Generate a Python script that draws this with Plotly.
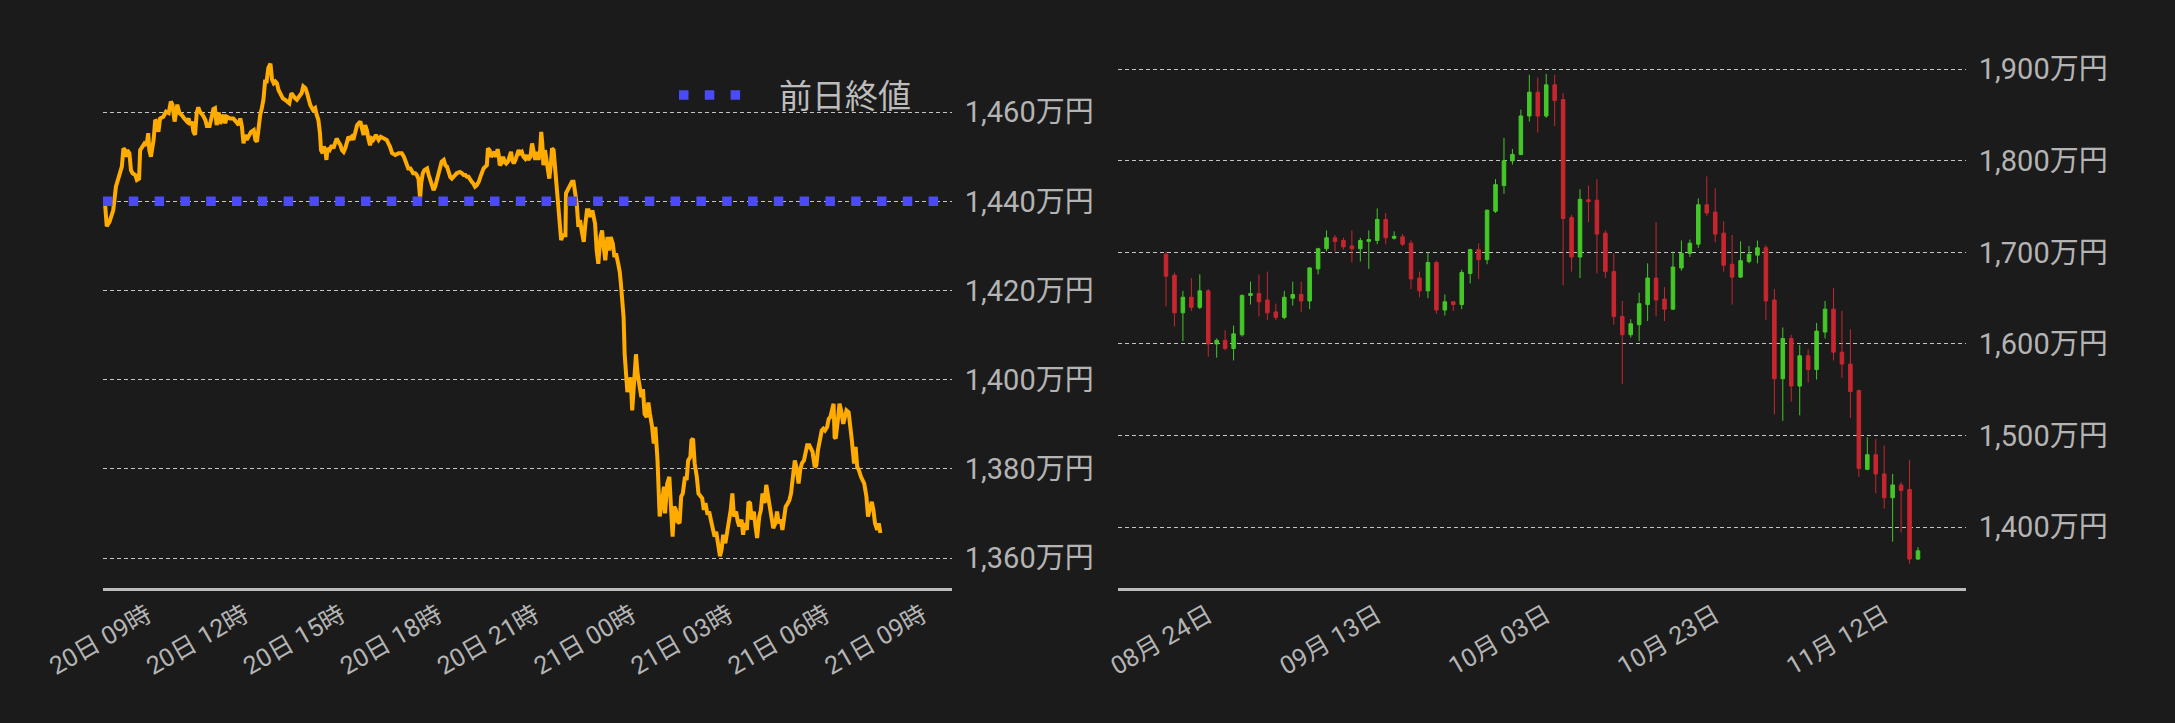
import pandas as pd
import plotly.graph_objects as go

# ---------------- data: intraday (万円), minutes from 20日 09:00 ----------------
intraday_minutes = [
    -78, -75, -70, -66, -63, -58, -51, -47, -44, -41,
    -38, -37, -33, -30, -27, -22, -19, -15, -13, -8,
    -5, -1, 2, 4, 7, 12, 15, 18, 21, 24,
    30, 35, 40, 44, 47, 51, 54, 56, 60, 64,
    69, 74, 77, 80, 83, 86, 89, 92, 95, 98,
    103, 108, 111, 116, 120, 123, 126, 129, 133, 136,
    139, 142, 145, 148, 154, 160, 165, 170, 173, 176,
    179, 182, 185, 190, 193, 198, 201, 204, 207, 210,
    213, 216, 219, 222, 225, 229, 232, 235, 238, 241,
    244, 247, 252, 256, 259, 264, 268, 272, 275, 278,
    283, 287, 290, 294, 297, 300, 303, 308, 312, 315,
    318, 321, 323, 326, 328, 331, 333, 335, 339, 343,
    346, 349, 352, 355, 359, 362, 365, 368, 371, 374,
    377, 380, 383, 386, 390, 393, 396, 399, 402, 405,
    408, 411, 414, 417, 420, 425, 430, 434, 439, 445,
    448, 451, 455, 461, 467, 473, 477, 481, 485, 489,
    494, 498, 501, 504, 506, 507, 509, 512, 515, 520,
    523, 526, 529, 532, 535, 538, 541, 544, 547, 551,
    554, 557, 560, 563, 566, 569, 572, 575, 578, 581,
    585, 588, 591, 594, 597, 600, 603, 606, 609, 612,
    616, 619, 622, 625, 628, 631, 633, 636, 639, 642,
    645, 648, 651, 653, 655, 658, 661, 664, 667, 670,
    673, 676, 678, 681, 684, 687, 690, 693, 696, 699,
    702, 705, 708, 712, 715, 718, 721, 724, 727, 730,
    732, 734, 736, 739, 742, 744, 747, 750, 752, 755,
    758, 761, 764, 767, 769, 772, 777, 778, 781, 783,
    786, 789, 792, 795, 798, 801, 804, 807, 811, 814,
    817, 820, 823, 827, 832, 835, 838, 842, 845, 848,
    851, 855, 858, 861, 865, 868, 871, 875, 878, 880,
    883, 885, 887, 890, 892, 895, 898, 901, 905, 908,
    911, 915, 918, 921, 924, 928, 931, 934, 938, 941,
    944, 948, 950, 952, 956, 960, 962, 966, 970, 972,
    976, 979, 982, 985, 989, 992, 995, 999, 1002, 1005,
    1009, 1011, 1014, 1017, 1021, 1024, 1027, 1031, 1034, 1037,
    1041, 1044, 1047, 1050, 1054, 1057, 1060, 1064, 1067, 1070,
    1074, 1077, 1080, 1084, 1087, 1090, 1094, 1097, 1100, 1104,
    1107, 1110, 1114, 1117, 1120, 1123, 1127, 1130, 1133, 1137,
    1140, 1143, 1147, 1150, 1153, 1157, 1160, 1163, 1167, 1170,
    1173, 1177, 1180, 1183, 1186, 1190, 1193, 1196, 1200, 1203,
    1206, 1210, 1213, 1216, 1220, 1223, 1226, 1230, 1233, 1236,
    1240, 1243, 1246, 1250, 1253, 1256, 1259, 1263, 1266, 1269,
    1273, 1275, 1277, 1279, 1283, 1286, 1289, 1293, 1296, 1299,
    1303, 1306, 1309, 1313, 1316, 1319, 1322, 1326, 1329, 1332,
    1336, 1339, 1342, 1346, 1349, 1352, 1356, 1359, 1362,
]
intraday_prices = [
    1439.1, 1434.4, 1435.4, 1436.9, 1438.0, 1443.3, 1445.9, 1447.8, 1451.9, 1451.5,
    1450.0, 1451.5, 1450.8, 1447.0, 1446.3, 1445.9, 1444.8, 1445.1, 1451.5, 1452.3,
    1453.0, 1452.6, 1455.3, 1451.5, 1450.0, 1453.8, 1458.3, 1457.9, 1455.6, 1458.6,
    1459.0, 1460.1, 1459.8, 1462.4, 1461.7, 1457.9, 1460.5, 1461.7, 1459.8, 1459.4,
    1458.6, 1457.9, 1458.6, 1457.1, 1457.9, 1455.6, 1454.9, 1459.8, 1461.1, 1460.1,
    1459.4, 1458.3, 1456.9, 1456.9, 1459.0, 1460.7, 1460.9, 1457.1, 1459.9, 1457.4,
    1458.6, 1459.4, 1457.5, 1459.0, 1458.6, 1458.6, 1457.9, 1457.1, 1458.6, 1456.8,
    1453.0, 1454.9, 1453.8, 1455.3, 1455.6, 1456.0, 1453.8, 1453.4, 1456.8, 1459.4,
    1460.9, 1462.8, 1466.9, 1466.9, 1469.9, 1470.9, 1467.3, 1466.5, 1466.9, 1466.5,
    1465.0, 1464.3, 1463.1, 1462.8, 1462.4, 1462.0, 1464.3, 1463.5, 1463.1, 1462.8,
    1463.5, 1464.3, 1465.8, 1465.4, 1464.3, 1462.8, 1461.6, 1460.5, 1460.9, 1459.4,
    1458.3, 1455.3, 1451.5, 1450.8, 1452.3, 1451.5, 1449.3, 1451.9, 1451.5, 1452.6,
    1451.9, 1453.0, 1454.1, 1453.4, 1452.6, 1451.5, 1451.1, 1451.9, 1453.4, 1454.5,
    1454.1, 1454.5, 1453.8, 1455.6, 1457.1, 1457.5, 1457.9, 1456.4, 1454.9, 1457.1,
    1456.0, 1454.1, 1452.6, 1454.1, 1453.8, 1454.9, 1453.8, 1454.5, 1454.1, 1453.8,
    1453.0, 1452.3, 1450.8, 1450.4, 1450.8, 1450.8, 1450.0, 1448.5, 1447.4, 1447.4,
    1446.3, 1446.3, 1445.9, 1445.1, 1441.8, 1440.6, 1444.0, 1446.3, 1447.0, 1447.4,
    1445.9, 1444.8, 1443.3, 1442.5, 1443.3, 1444.8, 1445.9, 1447.0, 1448.9, 1449.3,
    1448.1, 1447.8, 1446.3, 1445.5, 1445.1, 1445.7, 1445.9, 1446.3, 1446.4, 1446.6,
    1446.3, 1445.9, 1445.9, 1445.5, 1445.5, 1444.8, 1444.4, 1444.0, 1443.3, 1443.6,
    1444.4, 1445.5, 1446.6, 1447.4, 1447.8, 1448.1, 1451.9, 1451.5, 1450.0, 1450.8,
    1451.1, 1450.0, 1451.7, 1450.4, 1448.1, 1448.5, 1450.0, 1448.9, 1448.5, 1448.9,
    1450.0, 1451.1, 1449.3, 1448.5, 1449.3, 1450.8, 1451.5, 1450.8, 1451.1, 1450.0,
    1449.6, 1450.4, 1449.3, 1450.0, 1453.0, 1451.1, 1449.3, 1451.1, 1449.3, 1451.5,
    1455.6, 1453.0, 1448.1, 1451.5, 1449.3, 1447.0, 1445.1, 1448.5, 1451.9, 1451.5,
    1447.0, 1442.5, 1438.0, 1433.5, 1431.3, 1432.4, 1432.4, 1441.8, 1442.5, 1443.3,
    1444.0, 1444.4, 1444.4, 1442.5, 1439.5, 1434.3, 1435.8, 1433.5, 1430.9, 1435.0,
    1438.0, 1438.0, 1436.5, 1438.0, 1435.0, 1429.0, 1426.0, 1432.0, 1433.5, 1429.8,
    1426.8, 1432.0, 1429.0, 1432.0, 1430.5, 1427.5, 1428.3, 1426.0, 1424.1, 1421.5,
    1417.8, 1414.0, 1405.7, 1401.3, 1397.2, 1399.0, 1400.5, 1393.1, 1401.3, 1405.7,
    1401.3, 1398.3, 1396.1, 1397.9, 1392.3, 1391.6, 1394.9, 1392.3, 1389.4, 1385.7,
    1389.4, 1381.9, 1377.5, 1369.3, 1372.3, 1376.0, 1370.0, 1376.7, 1378.2, 1372.3,
    1364.8, 1371.5, 1370.8, 1368.2, 1367.8, 1373.8, 1374.5, 1378.2, 1377.5, 1381.9,
    1382.7, 1386.4, 1386.8, 1381.2, 1378.2, 1374.5, 1374.1, 1373.4, 1370.8, 1372.3,
    1369.7, 1370.4, 1368.6, 1367.1, 1364.8, 1365.9, 1363.3, 1360.4, 1361.9, 1365.2,
    1363.3, 1366.3, 1367.8, 1370.8, 1374.5, 1369.3, 1370.4, 1368.2, 1367.1, 1368.6,
    1365.2, 1367.8, 1366.3, 1372.6, 1372.3, 1368.6, 1370.4, 1367.1, 1364.5, 1369.3,
    1370.8, 1374.5, 1372.3, 1376.4, 1373.8, 1370.8, 1368.6, 1366.7, 1367.8, 1370.4,
    1367.8, 1368.6, 1366.3, 1370.0, 1371.5, 1372.3, 1373.0, 1374.5, 1378.2, 1381.9,
    1380.4, 1376.7, 1379.7, 1381.2, 1381.9, 1384.2, 1385.3, 1385.3, 1384.2, 1383.8,
    1380.4, 1380.8, 1384.2, 1387.1, 1388.6, 1389.0, 1388.6, 1389.4, 1391.2, 1391.6,
    1394.2, 1394.6, 1387.1, 1386.8, 1390.9, 1394.6, 1393.1, 1390.1, 1391.6, 1393.1,
    1392.7, 1390.1, 1386.4, 1381.2, 1384.9, 1380.4, 1379.7, 1378.2, 1377.5, 1376.7,
    1373.8, 1369.3, 1370.8, 1372.6, 1370.8, 1367.8, 1366.3, 1367.8, 1365.6,
]
prev_close = 1440.0
prev_close_label = "前日終値"

intraday_base = pd.Timestamp("2025-11-20 09:00")
intraday_window_minutes = [-82, 1495]
intraday_tick0 = "2025-11-20 09:00"
left_y_ticks = [1360, 1380, 1400, 1420, 1440, 1460]
left_y_range = [1353.27, 1476.2]

# ---------------- data: daily candles (万円) ----------------
candle_start = "2025-08-19"
candle_open = [
    1698, 1675, 1634, 1651, 1640, 1658, 1600, 1604, 1595, 1610,
    1653, 1655, 1648, 1635, 1629, 1650, 1654, 1647, 1682, 1704,
    1716, 1713, 1707, 1704, 1712, 1713, 1736, 1715.5, 1717, 1710,
    1672, 1658, 1689, 1637, 1646, 1643, 1677, 1703, 1692, 1745,
    1773, 1800, 1807, 1849, 1875, 1849, 1883, 1867, 1738, 1695,
    1757.5, 1757, 1721, 1679, 1630, 1610, 1621, 1643, 1672, 1649,
    1638, 1683, 1699, 1709, 1752, 1744, 1721, 1687, 1673, 1690,
    1697, 1705, 1648, 1562, 1606, 1554, 1587, 1572, 1613, 1638,
    1591, 1578, 1549, 1463, 1479, 1458, 1432, 1446, 1441, 1365,
]
candle_high = [
    1701, 1678, 1658, 1672, 1676, 1660, 1606, 1615, 1620, 1654,
    1668, 1676, 1679, 1644, 1658, 1668, 1668, 1684, 1705, 1724,
    1719, 1716, 1724, 1716, 1724, 1748, 1743, 1723, 1720, 1713,
    1679, 1700, 1691, 1654, 1647, 1681, 1704, 1710, 1747, 1780,
    1825, 1813, 1856, 1894, 1891, 1895, 1894, 1874, 1741, 1769,
    1773, 1780, 1724, 1699, 1647, 1627, 1656, 1688, 1733, 1662,
    1701, 1713, 1714, 1759, 1783, 1770, 1734, 1719, 1712, 1707,
    1713, 1708, 1660, 1618, 1610, 1599, 1594, 1623, 1647, 1661,
    1636, 1616, 1550, 1498, 1496, 1489, 1458, 1449, 1473, 1378,
]
candle_low = [
    1641, 1619, 1603, 1636, 1638, 1586, 1585, 1593, 1582, 1608,
    1643, 1630, 1626, 1626, 1627, 1642, 1635, 1638, 1676, 1701,
    1701, 1703, 1689, 1690, 1682, 1709, 1709, 1714, 1707, 1660,
    1651, 1650, 1633, 1631, 1636, 1638, 1666, 1671, 1687, 1743,
    1764, 1796, 1806, 1843, 1831, 1847, 1838, 1664, 1679, 1672,
    1733, 1677, 1672, 1621, 1556, 1607, 1603, 1625, 1630, 1625,
    1637, 1680, 1695, 1705, 1740, 1711, 1679, 1643, 1672, 1688,
    1688, 1626, 1523, 1516, 1537, 1522, 1558, 1561, 1606, 1582,
    1563, 1519, 1455, 1462, 1437, 1420, 1384, 1394, 1360, 1364,
]
candle_close = [
    1674, 1634, 1651, 1640, 1658, 1600, 1604, 1595, 1611, 1653,
    1655, 1646, 1634, 1629, 1651, 1654, 1647, 1683, 1704, 1716,
    1712, 1706, 1704, 1713, 1714, 1736, 1716, 1717.5, 1709, 1671,
    1658, 1689, 1637, 1646, 1643, 1678, 1703, 1692, 1746, 1774,
    1800, 1807, 1849, 1875, 1849, 1883, 1866, 1737, 1695, 1758,
    1755.5, 1720, 1679, 1630, 1610, 1622, 1644, 1672, 1648, 1638,
    1684, 1699, 1710, 1752, 1743, 1720, 1686, 1673, 1691, 1698,
    1705, 1647, 1562, 1606, 1554, 1587, 1572, 1614, 1638, 1591,
    1578, 1548, 1464, 1479, 1458, 1432, 1446, 1440, 1365, 1374,
]
candle_x_range = ["2025-08-13 07:40", "2025-11-21 16:20"]
candle_tick_dates = ["2025-08-24", "2025-09-13", "2025-10-03", "2025-10-23", "2025-11-12"]
right_y_ticks = [1400, 1500, 1600, 1700, 1800, 1900]
right_y_range = [1333.4, 1932.0]
yen_suffix = "万円"

# ---------------- derived ----------------
intraday_times = [intraday_base + pd.Timedelta(minutes=m) for m in intraday_minutes]
window = [intraday_base + pd.Timedelta(minutes=m) for m in intraday_window_minutes]
candle_dates = pd.date_range(candle_start, periods=len(candle_open), freq="D")
left_y_text = [f"{v:,}{yen_suffix}" for v in left_y_ticks]
right_y_text = [f"{v:,}{yen_suffix}" for v in right_y_ticks]

BG = "#1b1b1b"
TICK = "#b4b4b4"
GRID = "#c4c4c4"
BLUE = "#4b4bf5"
FONT = "Roboto, 'Noto Sans CJK JP', sans-serif"
W, H = 2175, 723
TOP, BOTTOM = 40, 588

fig = go.Figure()
fig.add_trace(go.Scatter(
    x=intraday_times, y=intraday_prices, mode="lines",
    line=dict(color="#ffab00", width=4), showlegend=False,
    xaxis="x", yaxis="y", hoverinfo="skip",
))
fig.add_trace(go.Scatter(
    x=window, y=[prev_close, prev_close], mode="lines",
    line=dict(color=BLUE, width=9.5, dash="9.5px,16.3px"),
    name=prev_close_label, showlegend=False,
    xaxis="x", yaxis="y", hoverinfo="skip",
))
# legend entry for the previous-close line (three squares, then the label)
fig.add_trace(go.Scatter(
    x=[None], y=[None], mode="lines",
    line=dict(color=BLUE, width=9.5,
              dash="9.5px,16.3px,9.5px,16.3px,9.5px,80px"),
    name=prev_close_label, showlegend=True, xaxis="x", yaxis="y",
))
fig.add_trace(go.Candlestick(
    x=candle_dates, open=candle_open, high=candle_high,
    low=candle_low, close=candle_close,
    increasing=dict(line=dict(color="#44c828", width=1), fillcolor="#44c828"),
    decreasing=dict(line=dict(color="#c8262f", width=1), fillcolor="#c8262f"),
    whiskerwidth=0, showlegend=False, xaxis="x2", yaxis="y2", hoverinfo="skip",
))

common_x = dict(
    showgrid=False, zeroline=False, showline=True, linecolor="#bbbbbb",
    linewidth=3, tickangle=-30, tickfont=dict(size=25, color=TICK, family=FONT),
    ticks="", automargin=False,
)
common_y = dict(
    side="right", showgrid=True, gridcolor=GRID, gridwidth=1, griddash="4px,3px",
    zeroline=False, showline=False,
    tickfont=dict(size=29, color=TICK, family=FONT),
    ticks="outside", ticklen=6, tickcolor="rgba(0,0,0,0)", automargin=False,
)

fig.update_layout(
    width=W, height=H,
    paper_bgcolor=BG, plot_bgcolor=BG,
    margin=dict(l=0, r=0, t=TOP, b=H - BOTTOM, autoexpand=False),
    font=dict(family=FONT, color=TICK),
    hovermode=False,
    boxgap=0.4,
    xaxis=dict(domain=[103 / W, 952 / W], type="date",
               range=window, tickformat="%d日 %H時",
               tick0=intraday_tick0, dtick=3 * 3600 * 1000, **common_x),
    yaxis=dict(domain=[0, 1], anchor="x", range=left_y_range,
               tickvals=left_y_ticks, ticktext=left_y_text, **common_y),
    xaxis2=dict(domain=[1118 / W, 1966 / W], type="date", anchor="y2",
                range=candle_x_range, tickvals=candle_tick_dates,
                tickformat="%m月 %d日", rangeslider=dict(visible=False), **common_x),
    yaxis2=dict(domain=[0, 1], anchor="x2", range=right_y_range,
                tickvals=right_y_ticks, ticktext=right_y_text, **common_y),
    legend=dict(x=(682 - 8) / W, xanchor="left",
                y=(BOTTOM - 95) / (BOTTOM - TOP), yanchor="middle",
                bgcolor="rgba(0,0,0,0)", itemwidth=95, borderwidth=0,
                font=dict(size=33, color="#bdbdbd", family=FONT)),
)

fig.write_html(
    "out.html",
    config={"displayModeBar": False},
    post_script="document.body.style.margin='0';document.body.style.overflow='hidden';",
)
